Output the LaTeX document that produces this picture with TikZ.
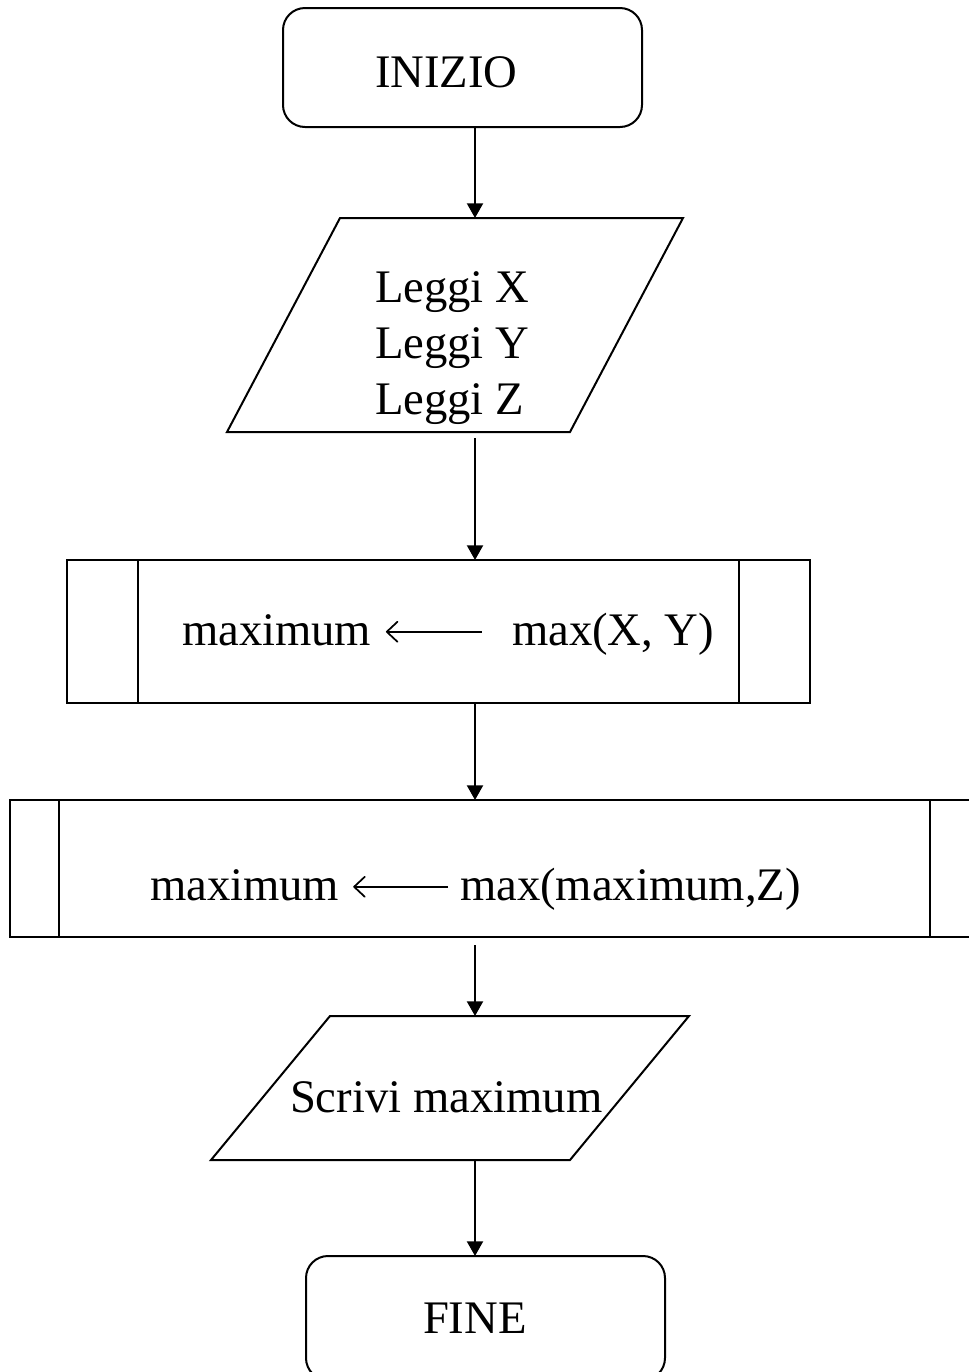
\documentclass[tikz,border=0pt]{standalone}
\usepackage{fontspec}
\setmainfont{Liberation Serif}
\usetikzlibrary{arrows.meta}
\begin{document}
\begin{tikzpicture}[x=0.75pt,y=-0.75pt,
  every node/.style={inner sep=0pt, outer sep=0pt},
  termbox/.style={draw, line width=1.5pt, rounded corners=16.5pt,
    minimum width=269.25pt},
  frame/.style={line width=1.5pt},
  txt/.style={font=\fontsize{35}{42}\selectfont, anchor=base west},
  flow/.style={line width=1.5pt, -{Triangle[length=11pt,width=12pt]}},
  assign/.style={line width=1.1pt, -{Straight Barb[length=8pt,width=15pt,line width=1.3pt,round]}}
]
\useasboundingbox (0,0) rectangle (969,1372);
\clip (0,0) rectangle (969,1372);

% terminal: start
\node[termbox, minimum height=89.25pt] (start) at (462.5,67.5) {};
\node[txt] (tstart) at (375,87) {INIZIO};

% input parallelogram
\node[minimum width=342pt, minimum height=160.5pt] (in1) at (455,325) {};
\draw[frame] ([xshift=84.75pt]in1.north west) -- (in1.north east)
  -- ([xshift=-84.75pt]in1.south east) -- (in1.south west) -- cycle;
\node[txt] (tin1) at (375,302) {Leggi X};
\node[txt] (tin2) at (375,358) {Leggi Y};
\node[txt] (tin3) at (375,414) {Leggi Z};

% first predefined process
\node[draw, frame, minimum width=557.25pt, minimum height=107.25pt] (p1) at (438.5,631.5) {};
\draw[frame] ([xshift=53.25pt]p1.north west) -- ([xshift=53.25pt]p1.south west);
\draw[frame] ([xshift=-53.25pt]p1.north east) -- ([xshift=-53.25pt]p1.south east);
\node[txt] (v1) at (182,645) {maximum};
\node[txt] (e1) at (512,645) {max(X, Y)};
\draw[assign] ([xshift=83pt,yshift=-1.5pt]v1.east) -- ([xshift=11pt,yshift=-1.5pt]v1.east);

% second predefined process
\node[draw, frame, minimum width=726.75pt, minimum height=102.75pt] (p2) at (494.5,868.5) {};
\draw[frame] ([xshift=36.75pt]p2.north west) -- ([xshift=36.75pt]p2.south west);
\draw[frame] ([xshift=-36.75pt]p2.north east) -- ([xshift=-36.75pt]p2.south east);
\node[txt] (v2) at (150,900) {maximum};
\node[txt] (e2) at (460,900) {max(maximum,Z)};
\draw[assign] ([xshift=81.75pt,yshift=-1.5pt]v2.east) -- ([xshift=10.5pt,yshift=-1.5pt]v2.east);

% output parallelogram
\node[minimum width=358.5pt, minimum height=108pt] (out1) at (450,1088) {};
\draw[frame] ([xshift=89.25pt]out1.north west) -- (out1.north east)
  -- ([xshift=-89.25pt]out1.south east) -- (out1.south west) -- cycle;
\node[txt] (tout) at (290,1112) {Scrivi maximum};

% terminal: end
\node[termbox, minimum height=93pt] (stop) at (485.5,1318) {};
\node[txt] (tstop) at (423,1333) {FINE};

% flow connectors
\coordinate (ax) at (475,0);
\draw[flow] (ax |- start.south) -- (ax |- in1.north);
\draw[flow] ([yshift=-4.5pt]ax |- in1.south) -- (ax |- p1.north);
\draw[flow] (ax |- p1.south) -- (ax |- p2.north);
\draw[flow] ([yshift=-6pt]ax |- p2.south) -- (ax |- out1.north);
\draw[flow] (ax |- out1.south) -- (ax |- stop.north);
\end{tikzpicture}
\end{document}
